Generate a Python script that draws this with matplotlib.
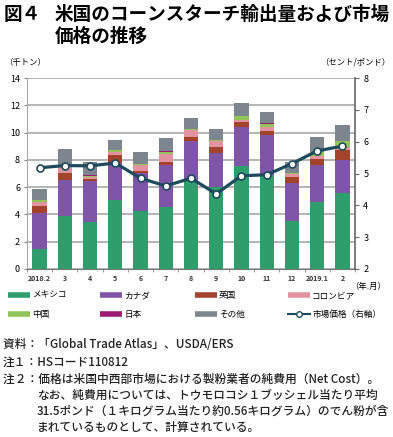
import numpy as np
import matplotlib
matplotlib.use("Agg")
import matplotlib.pyplot as plt
from matplotlib.lines import Line2D

plt.rcParams['font.family'] = ['Noto Sans CJK JP', 'DejaVu Sans']

months = ["2018.2", "3", "4", "5", "6", "7", "8", "9", "10", "11", "12", "2019.1", "2"]
mexico   = [1.50, 3.85, 3.43, 5.07, 4.25, 4.52, 6.52, 6.00, 7.56, 6.90, 3.55, 4.89, 5.56]
canada   = [2.60, 2.65, 3.05, 2.68, 2.80, 3.10, 2.86, 2.49, 2.84, 2.94, 2.74, 2.70, 2.44]
uk       = [0.50, 0.55, 0.12, 0.60, 0.10, 0.25, 0.32, 0.44, 0.34, 0.24, 0.49, 0.49, 0.69]
colombia = [0.30, 0.40, 0.15, 0.22, 0.45, 0.54, 0.49, 0.42, 0.20, 0.30, 0.20, 0.22, 0.24]
china    = [0.15, 0.15, 0.10, 0.12, 0.10, 0.19, 0.06, 0.07, 0.24, 0.27, 0.05, 0.24, 0.42]
japan    = [0.02, 0.02, 0.02, 0.02, 0.02, 0.02, 0.02, 0.02, 0.02, 0.02, 0.02, 0.02, 0.02]
other    = [0.80, 1.15, 1.00, 0.73, 0.88, 0.98, 0.80, 0.83, 0.98, 0.85, 0.81, 1.13, 1.22]
price    = [5.18, 5.25, 5.24, 5.33, 4.85, 4.61, 4.85, 4.36, 4.93, 4.96, 5.31, 5.71, 5.86]

series = [("メキシコ", mexico, "#2f9e6c"),
          ("カナダ", canada, "#7f55a8"),
          ("英国", uk, "#a3432b"),
          ("コロンビア", colombia, "#e392a2"),
          ("中国", china, "#93c457"),
          ("日本", japan, "#9b1c72"),
          ("その他", other, "#7d858e")]

fig = plt.figure(figsize=(3.93, 4.37), dpi=100)
ax = fig.add_axes([27/393, 1-269/437, 328/393, 191/437])

x = np.arange(len(months))
bottom = np.zeros(len(months))
handles = {}
for name, vals, col in series:
    ax.bar(x, vals, 0.57, bottom=bottom, color=col, zorder=2)
    bottom += np.array(vals)
    handles[name] = Line2D([], [], color=col, lw=4, solid_capstyle="butt")

ax.set_xlim(-0.5, 12.5)
ax.set_ylim(0, 14)
ax.set_yticks(range(0, 15, 2))
ax.grid(axis="y", color="#b4b4b4", lw=1.4, zorder=0)
ax.set_axisbelow(True)
ax.set_xticks(x)
ax.set_xticklabels(months, fontsize=5, fontweight="bold", color="#333333")
ax.set_xticks(np.arange(-0.5, 13, 1), minor=True)
ax.tick_params(axis="x", which="major", length=0, pad=4)
ax.tick_params(axis="x", which="minor", length=2, color="#888888")
ax.tick_params(axis="y", labelsize=6.5, length=2, color="#888888", pad=3)
for s in ["top", "right"]:
    ax.spines[s].set_visible(False)
ax.spines["left"].set_color("#aaaaaa")
ax.spines["bottom"].set_color("#777777")

ax2 = ax.twinx()
ax2.plot(x, price, color="#1d4a5c", lw=2.3, marker="o", ms=5,
         mfc="white", mec="#1d4a5c", mew=1.2, zorder=5)
ax2.set_ylim(2, 8)
ax2.set_yticks(range(2, 9))
ax2.tick_params(axis="y", labelsize=6.5, length=3, color="#666666", pad=3)
for s in ["top", "left", "bottom"]:
    ax2.spines[s].set_visible(False)
ax2.spines["right"].set_color("#666666")
ax2.spines["right"].set_linewidth(1.2)

handles["市場価格（右軸）"] = Line2D([], [], color="#1d4a5c", lw=1.5, marker="o",
                               ms=4, mfc="white", mec="#1d4a5c")
columns = [(8, ["メキシコ", "中国"]), (100, ["カナダ", "日本"]),
           (195, ["英国", "その他"]), (288, ["コロンビア", "市場価格（右軸）"])]
for cx, names in columns:
    leg = fig.legend([handles[k] for k in names], names, loc="upper left",
                     bbox_to_anchor=(cx/393, 1-291/437), frameon=False, fontsize=6.2,
                     handlelength=2.6, handletextpad=0.2, labelspacing=1.2,
                     borderaxespad=0, borderpad=0)

fig.text(4/393, 1-14/437, "図４", fontsize=13.4, fontweight="bold", va="center")
fig.text(55/393, 1-14/437, "米国のコーンスターチ輸出量および市場", fontsize=13.4,
         fontweight="bold", va="center")
fig.text(55/393, 1-36/437, "価格の推移", fontsize=13.4, fontweight="bold", va="center")
fig.text(4/393, 1-62/437, "（千トン）", fontsize=6, va="center")
fig.text(390/393, 1-62/437, "（セント/ポンド）", fontsize=6, va="center", ha="right")
fig.text(386/393, 1-286/437, "（年.月）", fontsize=6, va="center", ha="right")

notes = [(3, 345, "資料：「Global Trade Atlas」、USDA/ERS"),
         (3, 362, "注１：HSコード110812"),
         (3, 379, "注２：価格は米国中西部市場における製粉業者の純費用（Net Cost）。"),
         (37, 395, "なお、純費用については、トウモロコシ１ブッシェル当たり平均"),
         (37, 411, "31.5ポンド（１キログラム当たり約0.56キログラム）のでん粉が含"),
         (37, 427, "まれているものとして、計算されている。")]
for nx, ny, t in notes:
    fig.text(nx/393, 1-ny/437, t, fontsize=8.45, va="center", fontweight="medium",
             color="#222222")

fig.savefig("out.png", dpi=100)
